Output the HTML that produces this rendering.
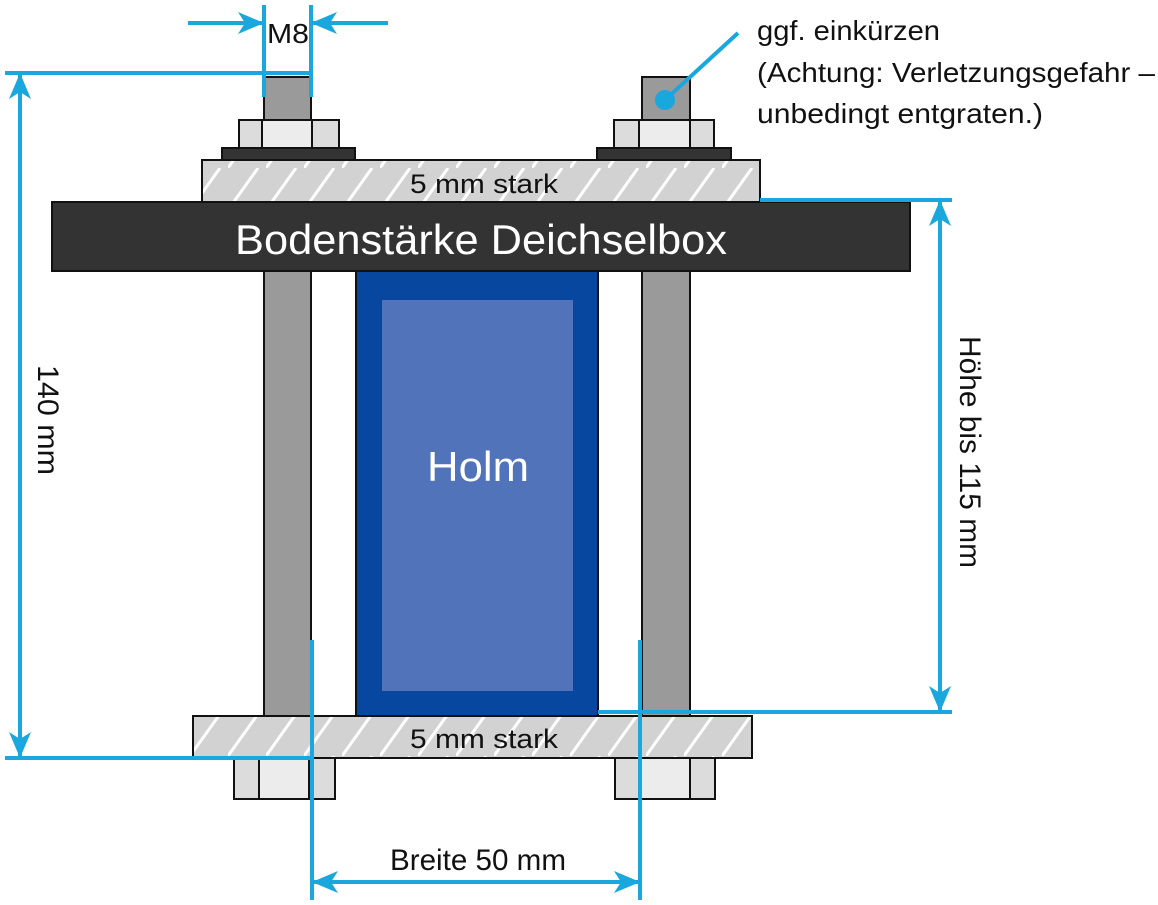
<!DOCTYPE html>
<html><head><meta charset="utf-8"><style>
html,body{margin:0;padding:0;background:#fff;}
svg{display:block;}
text{font-family:"Liberation Sans",sans-serif;}
</style></head><body>
<svg width="1158" height="905" viewBox="0 0 1158 905" xmlns="http://www.w3.org/2000/svg">
<defs>
<pattern id="h" patternUnits="userSpaceOnUse" width="38" height="42">
<line x1="0" y1="42" x2="30" y2="0" stroke="#fff" stroke-width="3"/>
</pattern>
<marker id="a" markerWidth="26" markerHeight="22" refX="24" refY="11" orient="auto" markerUnits="userSpaceOnUse" viewBox="0 0 26 22">
<path d="M0,0 L26,11 L0,22 L7,11 Z" fill="#1aa7dd"/>
</marker>
</defs>
<g stroke="#111" stroke-width="2">
<rect x="264" y="77" width="47" height="43" fill="#9a9a9a"/>
<rect x="642" y="77" width="48" height="43" fill="#9a9a9a"/>
<rect x="239" y="120" width="100" height="28" fill="#dcdcdc"/>
<rect x="262" y="120" width="50" height="28" fill="#ececec"/>
<rect x="614" y="120" width="100" height="28" fill="#dcdcdc"/>
<rect x="639" y="120" width="51" height="28" fill="#ececec"/>
<rect x="222" y="148" width="133" height="12" fill="#333"/>
<rect x="597" y="148" width="134" height="12" fill="#333"/>
<rect x="202" y="160" width="558" height="42" fill="#d2d2d2"/>
<rect x="203" y="161" width="556" height="40" fill="url(#h)" stroke="none"/>
<rect x="264" y="271" width="47" height="445" fill="#9a9a9a"/>
<rect x="642" y="271" width="48" height="445" fill="#9a9a9a"/>
<rect x="356" y="271" width="242" height="445" fill="#0747a0"/>
<rect x="382" y="300" width="191" height="391" fill="#5073b9" stroke="none"/>
<rect x="52" y="202" width="858" height="69" fill="#333"/>
<rect x="193" y="716" width="559" height="42" fill="#d2d2d2"/>
<rect x="194" y="717" width="557" height="40" fill="url(#h)" stroke="none"/>
<rect x="234" y="758" width="101" height="41" fill="#dcdcdc"/>
<rect x="259" y="758" width="50" height="41" fill="#ececec"/>
<rect x="615" y="758" width="100" height="41" fill="#dcdcdc"/>
<rect x="639" y="758" width="51" height="41" fill="#ececec"/>
</g>
<text x="484" y="193" font-size="27" text-anchor="middle" fill="#111" textLength="148" lengthAdjust="spacingAndGlyphs">5 mm stark</text>
<text x="481" y="254" font-size="42" text-anchor="middle" fill="#fff" textLength="492" lengthAdjust="spacingAndGlyphs">Bodenstärke Deichselbox</text>
<text x="478" y="481" font-size="42" text-anchor="middle" fill="#fff" textLength="102" lengthAdjust="spacingAndGlyphs">Holm</text>
<text x="484" y="748" font-size="27" text-anchor="middle" fill="#111" textLength="148" lengthAdjust="spacingAndGlyphs">5 mm stark</text>
<g stroke="#1aa7dd" stroke-width="4" fill="none">
<line x1="264" y1="5" x2="264" y2="97"/>
<line x1="311" y1="5" x2="311" y2="97"/>
<line x1="188" y1="23" x2="262" y2="23" marker-end="url(#a)"/>
<line x1="388" y1="23" x2="313" y2="23" marker-end="url(#a)"/>
<line x1="5" y1="73" x2="311" y2="73"/>
<line x1="5" y1="758" x2="312" y2="758"/>
<line x1="20" y1="420" x2="20" y2="75" marker-end="url(#a)"/>
<line x1="20" y1="420" x2="20" y2="756" marker-end="url(#a)"/>
<line x1="760" y1="200" x2="952" y2="200"/>
<line x1="598" y1="712" x2="952" y2="712"/>
<line x1="940" y1="450" x2="940" y2="202" marker-end="url(#a)"/>
<line x1="940" y1="450" x2="940" y2="710" marker-end="url(#a)"/>
<line x1="312" y1="640" x2="312" y2="900"/>
<line x1="640" y1="640" x2="640" y2="900"/>
<line x1="476" y1="882" x2="314" y2="882" marker-end="url(#a)"/>
<line x1="476" y1="882" x2="638" y2="882" marker-end="url(#a)"/>
<line x1="665" y1="100" x2="738" y2="33"/>
</g>
<circle cx="665" cy="100" r="10" fill="#1aa7dd"/>
<text x="288" y="43" font-size="28" text-anchor="middle" fill="#111" textLength="42" lengthAdjust="spacingAndGlyphs">M8</text>
<text x="478" y="870" font-size="30" text-anchor="middle" fill="#111" textLength="176" lengthAdjust="spacingAndGlyphs">Breite 50 mm</text>
<text transform="translate(38,420) rotate(90)" font-size="30" text-anchor="middle" fill="#111" textLength="110" lengthAdjust="spacingAndGlyphs">140 mm</text>
<text transform="translate(960,452) rotate(90)" font-size="30" text-anchor="middle" fill="#111" textLength="232" lengthAdjust="spacingAndGlyphs">Höhe bis 115 mm</text>
<text x="757" y="40" font-size="28" fill="#111" textLength="183" lengthAdjust="spacingAndGlyphs">ggf. einkürzen</text>
<text x="757" y="82" font-size="28" fill="#111" textLength="398" lengthAdjust="spacingAndGlyphs">(Achtung: Verletzungsgefahr –</text>
<text x="757" y="123" font-size="28" fill="#111" textLength="286" lengthAdjust="spacingAndGlyphs">unbedingt entgraten.)</text>
</svg>
</body></html>
